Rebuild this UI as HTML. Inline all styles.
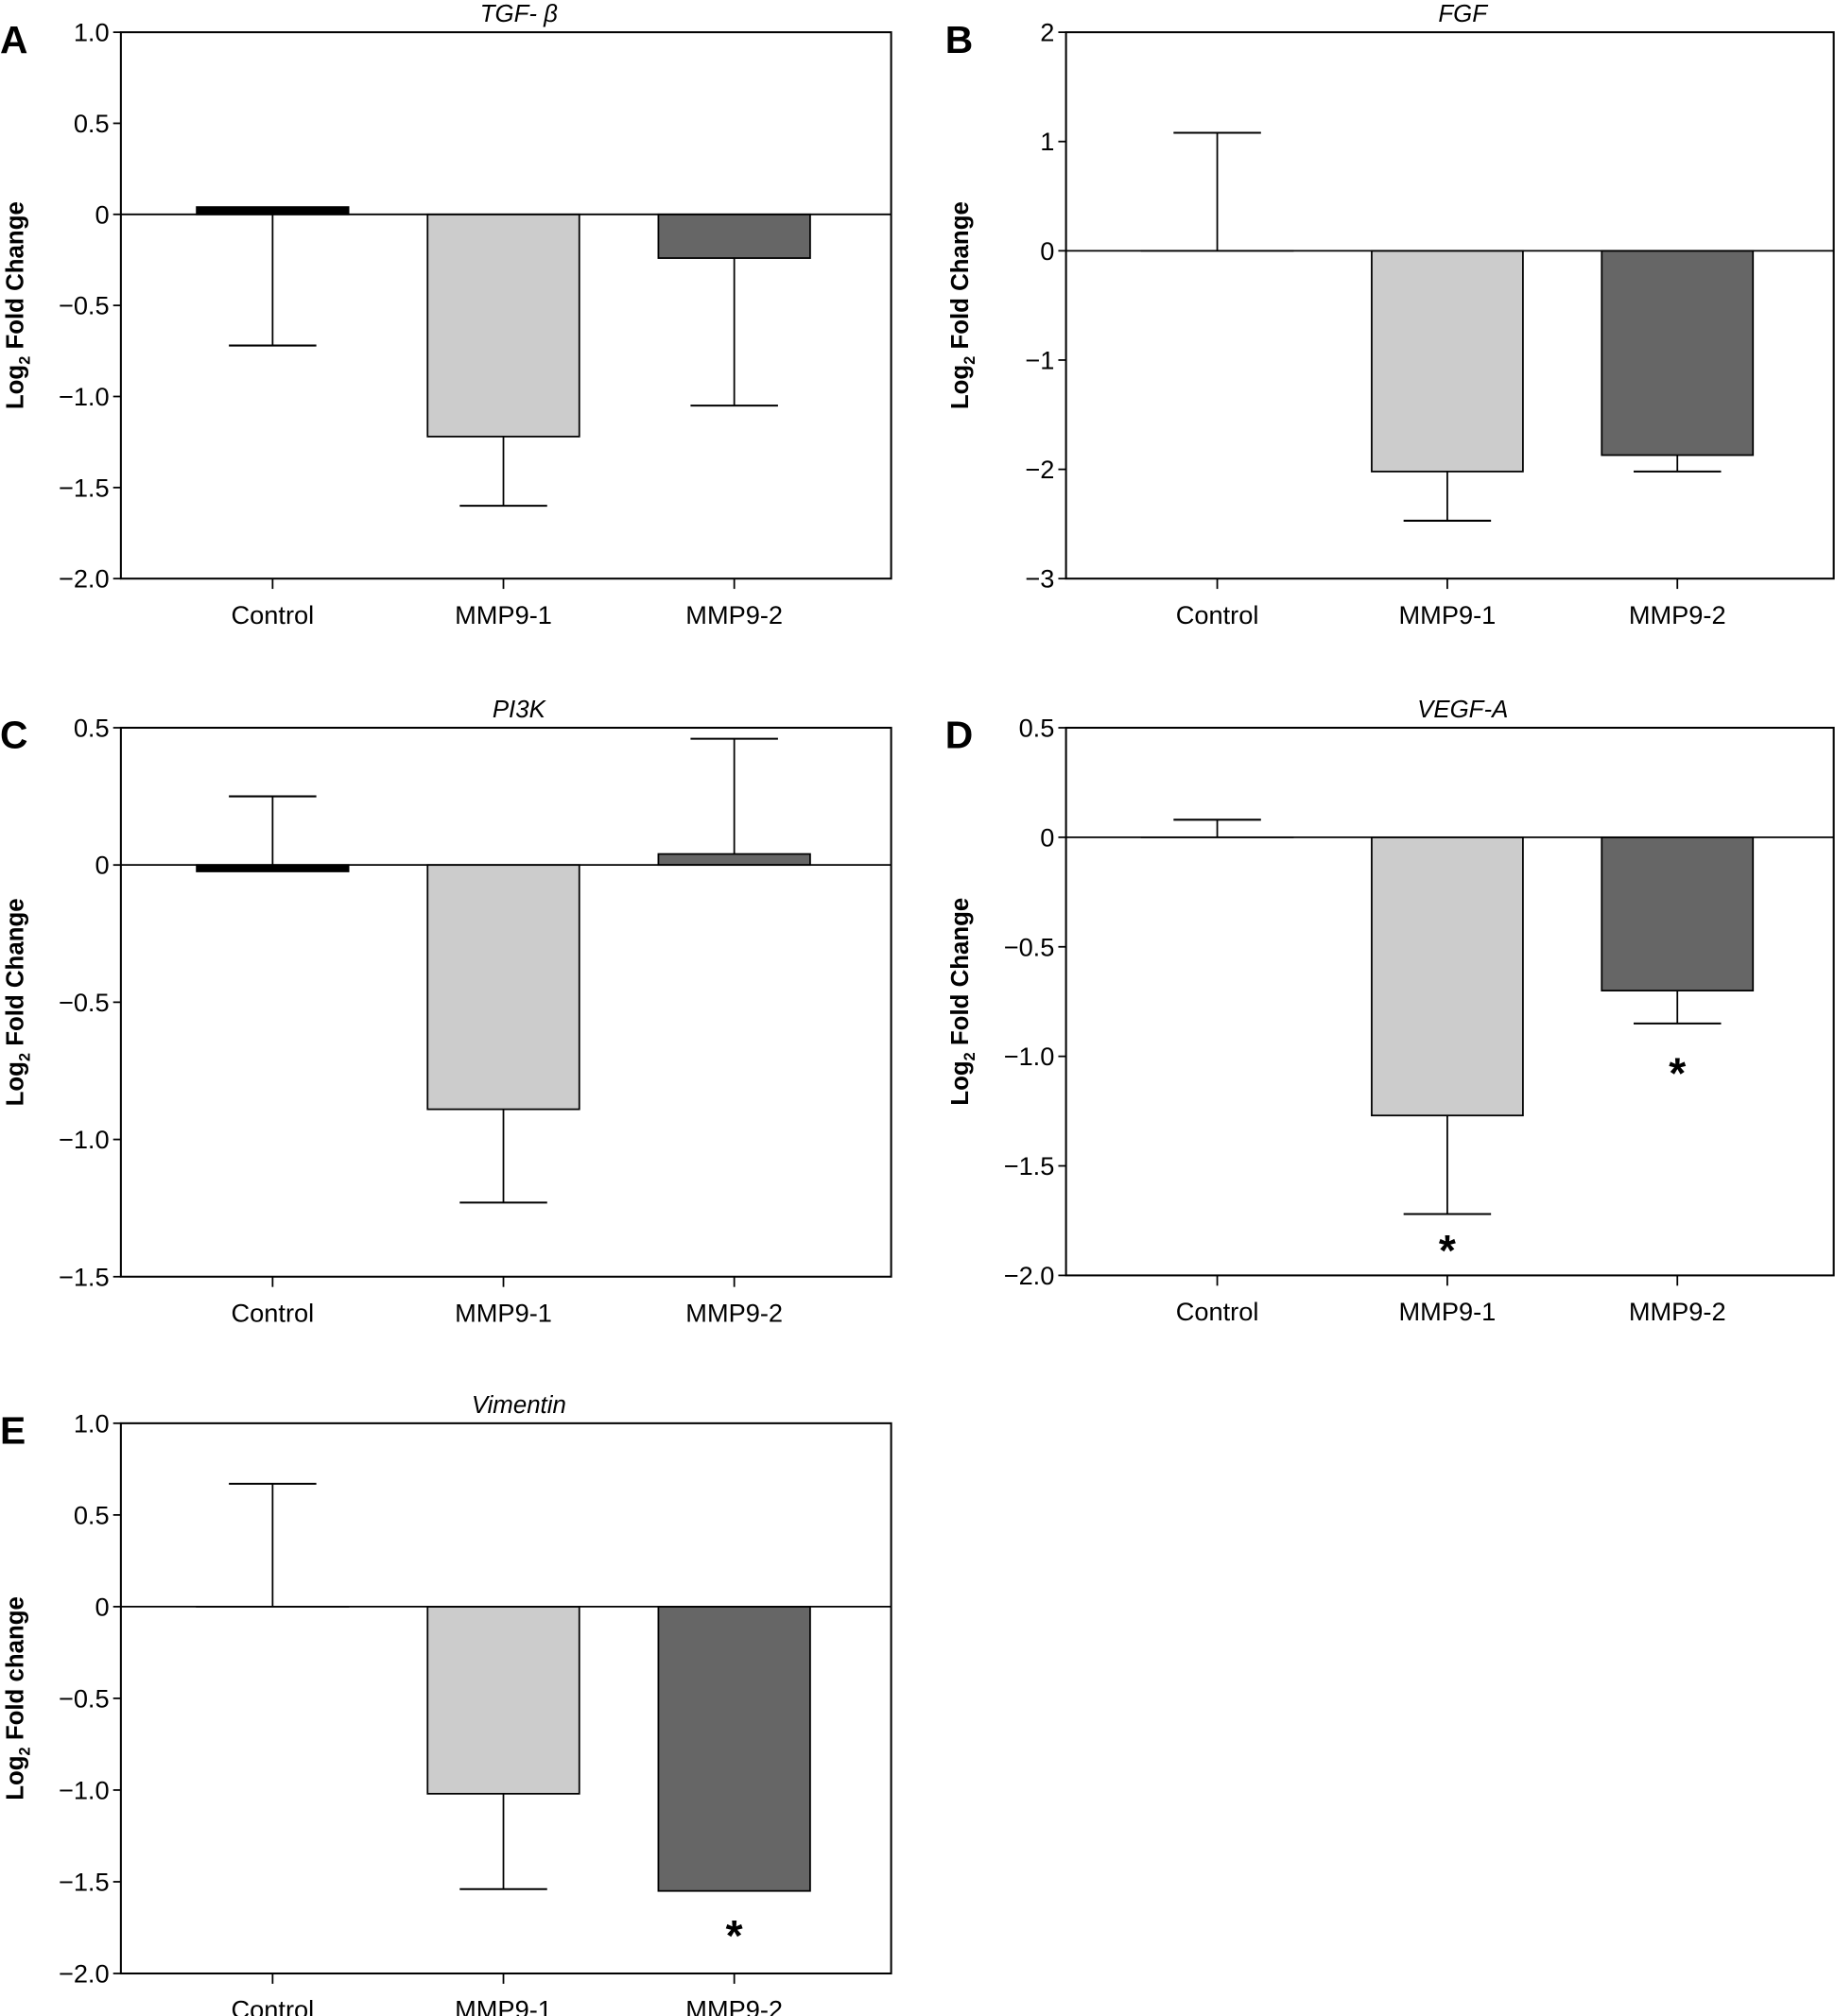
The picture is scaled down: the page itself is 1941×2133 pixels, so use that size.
<!DOCTYPE html>
<html><head><meta charset="utf-8"><style>
html,body{margin:0;padding:0;background:#fff;}
svg{display:block;}
text{font-family:"Liberation Sans Narrow","Liberation Sans",sans-serif;fill:#000;}
</style></head><body>
<svg id="fig" width="1941" height="2133" viewBox="0 0 1427 1568" xmlns="http://www.w3.org/2000/svg"></svg>
<script>
const categories = ["Control", "MMP9-1", "MMP9-2"];
const fills = ["#000000", "#cccccc", "#666666"];
// Panel A: TGF-beta
const aValues = [0.04, -1.22, -0.24];
const aErrors = [-0.72, -1.60, -1.05];
const aTicks = [1.0, 0.5, 0, -0.5, -1.0, -1.5, -2.0];
const aTickLabels = ["1.0", "0.5", "0", "\u22120.5", "\u22121.0", "\u22121.5", "\u22122.0"];
// Panel B: FGF
const bValues = [0, -2.02, -1.87];
const bErrors = [1.08, -2.47, -2.02];
const bTicks = [2, 1, 0, -1, -2, -3];
const bTickLabels = ["2", "1", "0", "\u22121", "\u22122", "\u22123"];
// Panel C: PI3K
const cValues = [-0.02, -0.89, 0.04];
const cErrors = [0.25, -1.23, 0.46];
const cTicks = [0.5, 0, -0.5, -1.0, -1.5];
const cTickLabels = ["0.5", "0", "\u22120.5", "\u22121.0", "\u22121.5"];
// Panel D: VEGF-A
const dValues = [0, -1.27, -0.70];
const dErrors = [0.08, -1.72, -0.85];
const dTicks = [0.5, 0, -0.5, -1.0, -1.5, -2.0];
const dTickLabels = ["0.5", "0", "\u22120.5", "\u22121.0", "\u22121.5", "\u22122.0"];
const dStars = [null, -1.85, -1.04];
// Panel E: Vimentin
const eValues = [0, -1.02, -1.55];
const eErrors = [0.67, -1.54, -1.55];
const eTicks = [1.0, 0.5, 0, -0.5, -1.0, -1.5, -2.0];
const eTickLabels = ["1.0", "0.5", "0", "\u22120.5", "\u22121.0", "\u22121.5", "\u22122.0"];
const eStars = [null, null, -1.75];

const NS = "http://www.w3.org/2000/svg";
const svg = document.getElementById("fig");
function mk(tag, attrs, parent, txt) {
  const el = document.createElementNS(NS, tag);
  for (const k in attrs) el.setAttribute(k, attrs[k]);
  if (txt !== undefined) el.textContent = txt;
  (parent || svg).appendChild(el);
  return el;
}

function panel(id, letter, title, L, R, T, B, yMax, yMin, values, errors, ticks, tickLabels, stars, ylab) {
  const g = mk("g", {});
  
  
  const y = v => T + (yMax - v) / (yMax - yMin) * (B - T);
  const step = (R - L) / 3.35;
  const x0 = L + (212 - 94) * (R - L) / 599;
  const xs = i => x0 + i * (179.5 * (R - L) / 599);
  const bw = 118 * (R - L) / 599;
  // letter
  const lt = mk("text", {x: L - 94, y: T + 16, "font-size": 30, "font-weight": "bold", "font-family": "Liberation Sans, sans-serif"}, g, letter);
  
  
  // title
  const tt = mk("text", {x: (L + R) / 2 + 10, y: T - 8, "font-size": 19, "font-style": "italic", "text-anchor": "middle"}, g, title);
  
  
  // y axis title
  const yt = mk("text", {transform: `translate(${L - 76},${(T + B) / 2}) rotate(-90)`, "font-size": 19, "font-weight": "bold", "text-anchor": "middle", "font-family": "Liberation Sans, sans-serif"}, g);
  
  
  mk("tspan", {}, yt, "Log");
  mk("tspan", {"font-size": 12, dy: 5}, yt, "2");
  mk("tspan", {dy: -5}, yt, " " + ylab);
  // ticks
  ticks.forEach((t, i) => {
    const ty = y(t);
    const tk = mk("line", {x1: L - 6, x2: L, y1: ty, y2: ty, stroke: "#000", "stroke-width": 1.3}, g);
    
    
    const tl = mk("text", {x: L - 9, y: ty + 7, "font-size": 20, "text-anchor": "end"}, g, tickLabels[i]);
    
    
  });
  // bars
  values.forEach((v, i) => {
    const cx = xs(i);
    const y0 = y(0), yv = y(v);
    const top = Math.min(y0, yv), h = Math.max(Math.abs(yv - y0), 0.01);
    const r = mk("rect", {x: cx - bw / 2, y: top, width: bw, height: h, fill: fills[i], stroke: "#000", "stroke-width": 1.3}, g);
    
    
    if (i === 0 && Math.abs(v) > 0.005) { r.setAttribute("height", Math.max(h, 5)); if (v < 0) r.setAttribute("y", y0); else r.setAttribute("y", y0 - Math.max(h, 5)); }
    const e = errors[i];
    if (e !== null && Math.abs(e - v) > 0.005) {
      const el = mk("line", {x1: cx, x2: cx, y1: yv, y2: y(e), stroke: "#000", "stroke-width": 1.3}, g);
      
      
      const cap = mk("line", {x1: cx - 34, x2: cx + 34, y1: y(e), y2: y(e), stroke: "#000", "stroke-width": 1.5}, g);
      
      
    }
    if (stars && stars[i] !== null) {
      const st = mk("text", {x: cx, y: y(stars[i]) + 18, "font-size": 34, "font-weight": "bold", "text-anchor": "middle", "font-family": "Liberation Sans, sans-serif"}, g, "*");
      
      
    }
    const xt = mk("line", {x1: cx, x2: cx, y1: B, y2: B + 8, stroke: "#000", "stroke-width": 1.3}, g);
    
    
    const xl = mk("text", {x: cx, y: B + 35, "font-size": 20, "text-anchor": "middle"}, g, categories[i]);
    
    
  });
  // zero line
  const z = mk("line", {x1: L, x2: R, y1: y(0), y2: y(0), stroke: "#000", "stroke-width": 1.3}, g);
  
  
  // frame
  const f = mk("rect", {x: L, y: T, width: R - L, height: B - T, fill: "none", stroke: "#000", "stroke-width": 1.5}, g);
  
  
}

panel("a", "A", "TGF- \u03b2", 94, 693, 25, 450, 1.0, -2.0, aValues, aErrors, aTicks, aTickLabels, null, "Fold Change");
panel("b", "B", "FGF", 829, 1426, 25, 450, 2, -3, bValues, bErrors, bTicks, bTickLabels, null, "Fold Change");
panel("c", "C", "PI3K", 94, 693, 566, 993, 0.5, -1.5, cValues, cErrors, cTicks, cTickLabels, null, "Fold Change");
panel("d", "D", "VEGF-A", 829, 1426, 566, 992, 0.5, -2.0, dValues, dErrors, dTicks, dTickLabels, dStars, "Fold Change");
panel("e", "E", "Vimentin", 94, 693, 1107, 1535, 1.0, -2.0, eValues, eErrors, eTicks, eTickLabels, eStars, "Fold change");
</script>
</body></html>
